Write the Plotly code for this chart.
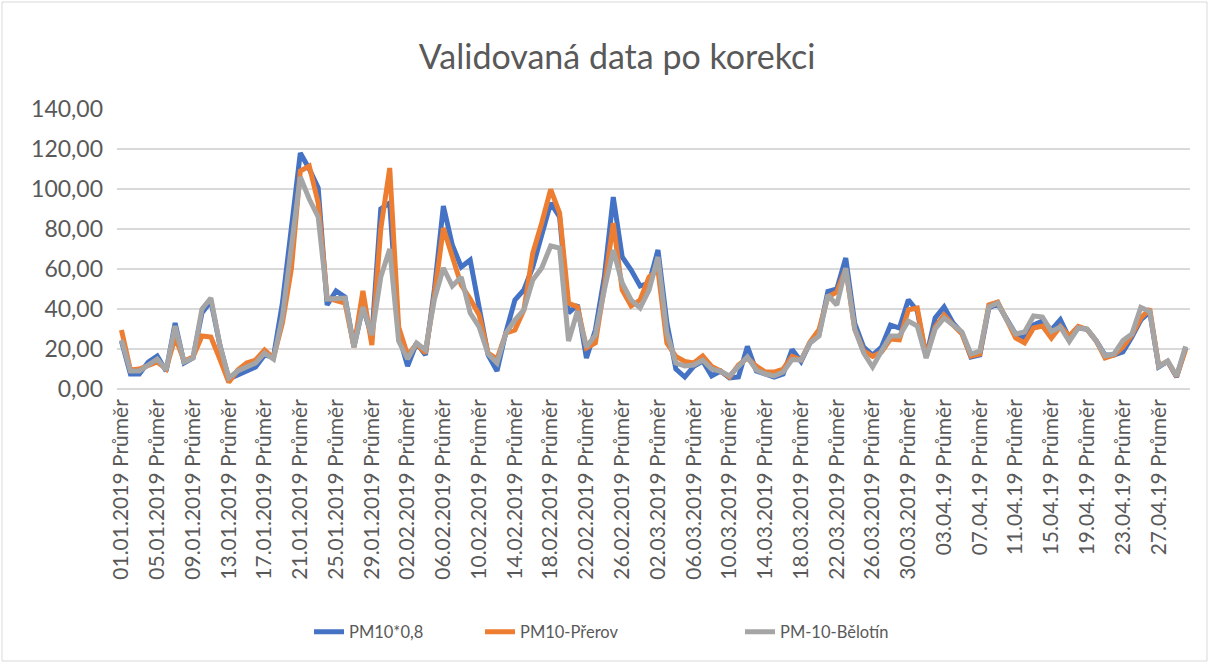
import plotly.graph_objects as go
from datetime import date, timedelta

# ---- data ----
days = [date(2019, 1, 1) + timedelta(days=k) for k in range(120)]
categories = [
    (d.strftime("%d.%m.%Y") if d.month < 4 else d.strftime("%d.%m.%y")) + " Průměr"
    for d in days
]

pm10_08 = [24, 7.5, 7.5, 13.5, 16.5, 9, 33, 13, 15.5, 38, 44, 22, 5, 7, 9, 11, 17, 16, 43, 80,
           118, 110, 100.5, 42, 49, 46, 21, 41, 26, 90, 93, 27, 11.5, 23, 17, 50, 91.5, 72, 61, 64.5,
           40, 17, 9, 28.5, 44.5, 49.5, 61, 76, 93, 86, 38, 42, 15.5, 29.5, 56, 96, 66, 59.5, 51.5, 53,
           69.5, 33, 10, 6, 11.3, 14, 6.5, 9, 5.5, 6, 21.3, 9, 7.5, 6, 7.5, 19.7, 13.8, 23, 27, 48.8,
           50, 65.5, 33, 21, 17, 21, 32, 30.5, 44.6, 39, 16, 35.5, 41, 33, 28, 16, 17, 40.5, 42.5, 34.5,
           27.5, 25.5, 32, 34, 29.5, 34.6, 25.5, 30.5, 29.8, 24.2, 17, 17, 18.5, 26, 34.5, 38.5, 11, 13.8, 6, 20.5]
pm10_prerov = [29.5, 9.5, 10, 11.5, 13.5, 10, 26, 14, 16, 26.5, 26, 15, 3.3, 9.5, 13, 14.5, 19.5, 15.5, 33, 60,
               109, 111.5, 93, 45.5, 44.5, 43, 21, 49, 22, 80, 110.5, 31, 17, 22.5, 18, 47, 80.5, 67, 52, 45,
               37, 18, 15, 28, 29.5, 39.5, 68, 83, 99.8, 88, 43, 41, 20.5, 23, 51, 83, 49.5, 41.5, 44.5, 56,
               59.5, 23, 16.3, 13.8, 13, 16.5, 11.3, 9, 6, 12, 15.5, 11.5, 8.5, 8.5, 10, 16.3, 14.5, 23.5, 29.6, 46,
               48.5, 60, 30, 19, 16.3, 18.5, 25, 24.6, 39.6, 40.5, 16, 31, 37, 32, 27.5, 16.5, 17.5, 42, 43.5, 34.5,
               25.5, 23, 30.5, 31.5, 25.5, 31.3, 26.5, 31.3, 29.8, 24.2, 15.5, 17, 21, 27, 35.5, 40, 11.5, 13.8, 6.3, 19.6]
pm10_belotin = [24.5, 9, 9, 12, 15, 9.5, 31.5, 13.5, 15.5, 40, 45.5, 22, 5.5, 9, 11, 13, 18, 15, 36, 71,
                106, 95, 86, 45, 45.5, 45.5, 21, 41, 27, 56, 70, 24, 15, 23, 19.5, 45, 60.5, 51.5, 56, 38,
                31, 17.5, 13, 28, 34.5, 39.5, 54.5, 60.5, 71.5, 70.5, 24, 39, 21, 27, 49.5, 69.5, 53, 44.5, 40.5, 49.5,
                66, 28, 13, 11.5, 12, 14.5, 10, 8.8, 6.5, 11.3, 16, 9.5, 7.5, 6.5, 8.5, 14.7, 14.5, 23, 26.5, 47,
                42, 60.5, 30, 18, 11, 19, 26.5, 26.5, 34, 31.5, 15.5, 30, 35.5, 32, 28.5, 17.5, 19, 41, 43, 34.5,
                27.5, 28.5, 36.5, 36, 28.8, 31, 23.8, 30.5, 30, 24.2, 16.5, 17.5, 24.2, 27.5, 40.8, 38.8, 11.3, 14, 6.5, 21.3]

series_names = ["PM10*0,8", "PM10-Přerov", "PM-10-Bělotín"]
series_colors = ["#4472C4", "#ED7D31", "#A5A5A5"]
y_ticks = [0, 20, 40, 60, 80, 100, 120, 140]
y_ticktext = ["0,00", "20,00", "40,00", "60,00", "80,00", "100,00", "120,00", "140,00"]

# ---- layout geometry (pixels) ----
W, H = 1210, 664
L, R, T, B = 117, 20, 109, 275
PW = W - L - R
PH = H - T - B

def px_x(px):
    return (px - L) / PW

def px_y(py):
    return (H - B - py) / PH

FONT = "Lato, 'Open Sans', sans-serif"
TXT = "#595959"

fig = go.Figure()
legend_ids = ["legend", "legend2", "legend3"]
for vals, name, col, lg in zip([pm10_08, pm10_prerov, pm10_belotin], series_names, series_colors, legend_ids):
    fig.add_trace(go.Scatter(
        x=categories, y=vals, name=name, mode="lines",
        line=dict(color=col, width=5),
        legend=lg,
    ))

legend_px = [309, 480, 740]
leg_common = dict(orientation="h", yanchor="middle", xanchor="left",
                  font=dict(family=FONT, size=16.5, color=TXT), bgcolor="rgba(0,0,0,0)")
fig.update_layout(
    width=W, height=H,
    margin=dict(l=L, r=R, t=T, b=B),
    paper_bgcolor="white", plot_bgcolor="white",
    title=dict(text="Validovaná data po korekci", x=0.51, xanchor="center", y=1 - 57 / H, yanchor="middle",
               font=dict(family=FONT, size=34, color=TXT)),
    showlegend=True,
    legend=dict(x=px_x(legend_px[0]), y=px_y(632), **leg_common),
    legend2=dict(x=px_x(legend_px[1]), y=px_y(632), **leg_common),
    legend3=dict(x=px_x(legend_px[2]), y=px_y(632), **leg_common),
    xaxis=dict(
        type="category", range=[-0.5, len(categories) - 0.5],
        tickmode="array", tickvals=categories[::4], ticktext=categories[::4],
        tickangle=-90, showgrid=False, showline=False, ticks="",
        ticklabelstandoff=5,
        tickfont=dict(family=FONT, size=21, color=TXT),
    ),
    yaxis=dict(
        range=[0, 140], tickmode="array", tickvals=y_ticks, ticktext=y_ticktext,
        showgrid=True, gridcolor="#D9D9D9", gridwidth=1.5,
        zeroline=True, zerolinecolor="#D9D9D9", zerolinewidth=1.5,
        showline=False, ticks="", ticklabelstandoff=13,
        tickfont=dict(family=FONT, size=23, color=TXT),
    ),
    shapes=[dict(type="rect", xref="paper", yref="paper",
                 x0=px_x(2), x1=px_x(1207), y0=px_y(661), y1=px_y(2),
                 line=dict(color="#D9D9D9", width=1), fillcolor="rgba(0,0,0,0)", layer="below")],
)

fig.write_html("out.html", config={"displayModeBar": False},
               post_script="document.body.style.margin='0';document.body.style.overflow='hidden';")
